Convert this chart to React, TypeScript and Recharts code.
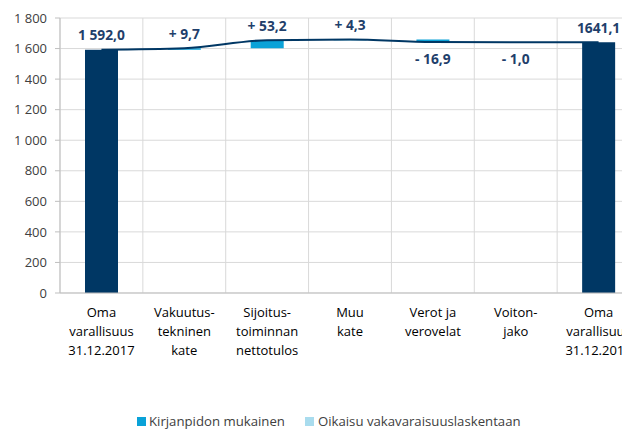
import React from "react"
import {
  ComposedChart,
  Bar,
  Line,
  XAxis,
  YAxis,
  CartesianGrid,
  LabelList,
} from "recharts"

const KATEGORIAT = [
  "Oma\nvarallisuus\n31.12.2017",
  "Vakuutus-\ntekninen\nkate",
  "Sijoitus-\ntoiminnan\nnettotulos",
  "Muu\nkate",
  "Verot ja\nverovelat",
  "Voiton-\njako",
  "Oma\nvarallisuus\n31.12.2018",
]
const ALKU_LOPPU = [1592.0, null, null, null, null, null, 1641.1]
const KIRJANPITO = [null, 9.7, 53.2, 4.3, -16.9, -1.0, null]
const OIKAISU = [0, 0, 0, 0, 0, 0, 0]
const NIMIKKEET = ["1 592,0", "+ 9,7", "+ 53,2", "+ 4,3", "- 16,9", "- 1,0", "1641,1"]
const Y_TICKS = [0, 200, 400, 600, 800, 1000, 1200, 1400, 1600, 1800]

const NAVY = "#003764"
const SININEN = "#0aa2d8"
const VAALEA = "#a9dcee"
const FONT = "'Open Sans', 'Noto Sans', sans-serif"

// juokseva summa vesiputousta varten
let summa = 0
const dados = KATEGORIAT.map((k, i) => {
  const total = ALKU_LOPPU[i]
  const delta = KIRJANPITO[i]
  let pohja = 0
  let arvo = 0
  if (total != null) {
    summa = total
  } else if (delta != null) {
    const alku = summa
    summa = alku + delta
    pohja = Math.min(alku, summa)
    arvo = Math.abs(delta)
  }
  return {
    kat: k,
    total,
    pohja: total != null ? null : pohja,
    kirjanpito: total != null ? null : arvo,
    oikaisu: OIKAISU[i],
    viiva: summa,
    nimi: NIMIKKEET[i],
    neg: delta != null && delta < 0,
  }
})

const KatTick = ({ x, y, payload }: any) => {
  const rivit = String(payload.value).split("\n")
  return (
    <text x={x} y={y} textAnchor="middle" fill="#000" fontSize={13} fontFamily={FONT}>
      {rivit.map((r, i) => (
        <tspan key={i} x={x} dy={i === 0 ? 16 : 19}>
          {r}
        </tspan>
      ))}
    </text>
  )
}

const Nimike = (props: any) => {
  const { x, y, index } = props
  const d = dados[index]
  const cy = d.neg ? y + 16 : y - 15
  return (
    <text
      x={x}
      y={cy}
      textAnchor="middle"
      dominantBaseline="central"
      fill="#1f3f6b"
      fontSize={13.8}
      fontWeight={700}
      fontFamily={FONT}
    >
      {d.nimi}
    </text>
  )
}

export default function App() {
  return (
    <div style={{ position: "relative", width: 622, height: 421, overflow: "hidden", fontFamily: FONT }}>
      <ComposedChart
        width={640}
        height={421}
        data={dados}
        margin={{ top: 10, right: 8, left: 0, bottom: 76 }}
        barSize={33}
      >
        <CartesianGrid
          stroke="#d9d9d9"
          verticalCoordinatesGenerator={({ offset }: any) =>
            KATEGORIAT.map((_, i) => offset.left + (i * offset.width) / KATEGORIAT.length).concat(
              offset.left + offset.width
            )
          }
        />
        <XAxis
          dataKey="kat"
          interval={0}
          height={60}
          tick={<KatTick />}
          tickLine={false}
          axisLine={{ stroke: "#bfbfbf" }}
        />
        <YAxis
          domain={[0, 1800]}
          ticks={Y_TICKS}
          width={52}
          tickSize={5}
          tickMargin={8}
          axisLine={{ stroke: "#bfbfbf" }}
          tickLine={{ stroke: "#bfbfbf" }}
          tick={{ fontSize: 13, fill: "#404040", fontFamily: FONT }}
          tickFormatter={(v: number) => (v >= 1000 ? `${Math.floor(v / 1000)} ${String(v % 1000).padStart(3, "0")}` : String(v))}
        />
        <Bar dataKey="pohja" stackId="a" fill="transparent" isAnimationActive={false} />
        <Bar dataKey="kirjanpito" stackId="a" fill={SININEN} isAnimationActive={false} />
        <Bar dataKey="oikaisu" stackId="a" fill={VAALEA} isAnimationActive={false} />
        <Bar dataKey="total" stackId="a" fill={NAVY} isAnimationActive={false} />
        <Line
          dataKey="viiva"
          type="monotone"
          stroke={NAVY}
          strokeWidth={2}
          dot={false}
          activeDot={false}
          isAnimationActive={false}
        >
          <LabelList dataKey="nimi" content={<Nimike />} />
        </Line>
      </ComposedChart>
      <div
        style={{
          position: "absolute",
          top: 404,
          left: 129,
          display: "flex",
          alignItems: "center",
          fontSize: 13.2,
          color: "#404040",
          whiteSpace: "nowrap",
        }}
      >
        <span style={{ width: 9, height: 9, background: SININEN, display: "inline-block", marginRight: 3 }} />
        <span style={{ marginRight: 20 }}>Kirjanpidon mukainen</span>
        <span style={{ width: 9, height: 9, background: VAALEA, display: "inline-block", marginRight: 4 }} />
        <span>Oikaisu vakavaraisuuslaskentaan</span>
      </div>
    </div>
  )
}
